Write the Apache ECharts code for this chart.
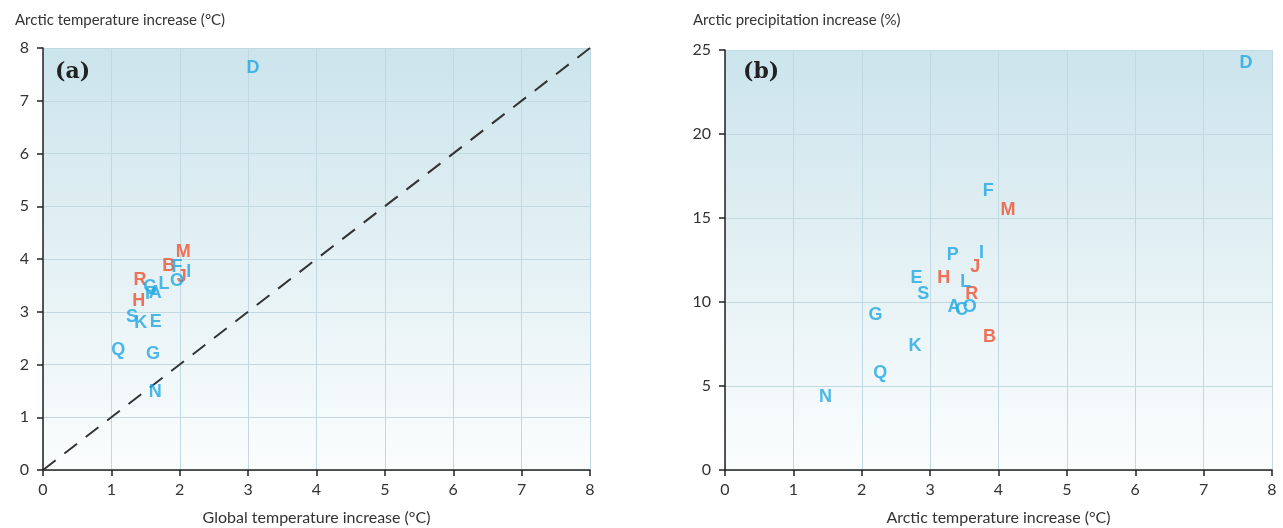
<!DOCTYPE html>
<html>
<head>
<meta charset="utf-8">
<script src="https://cdn.jsdelivr.net/npm/echarts@6/dist/echarts.min.js"></script>
<style>
  html, body { margin: 0; padding: 0; background: #fff; }
  #chart-box { width: 1283px; height: 528px; }
</style>
</head>
<body>
<div id="chart-box"></div>
<script>
// model letters and values
var models = ["A", "B", "C", "D", "E", "F", "G", "H", "I", "J", "K", "L", "M", "N", "O", "P", "Q", "R", "S"];
var globalTemp = [1.64, 1.84, 1.56, 3.07, 1.65, 1.96, 1.61, 1.40, 2.13, 2.03, 1.43, 1.77, 2.05, 1.64, 1.96, 1.58, 1.10, 1.42, 1.30];
var arcticTemp = [3.35, 3.87, 3.46, 7.62, 2.80, 3.85, 2.20, 3.20, 3.75, 3.66, 2.78, 3.52, 4.14, 1.47, 3.58, 3.33, 2.27, 3.61, 2.90];
var arcticPrecip = [9.7, 7.9, 9.5, 24.2, 11.4, 16.6, 9.2, 11.4, 12.9, 12.1, 7.4, 11.2, 15.5, 4.35, 9.7, 12.8, 5.8, 10.5, 10.5];
var redModels = ["B", "H", "J", "M", "R"];
var tempTicks = [0, 1, 2, 3, 4, 5, 6, 7, 8];
var precipTicks = [0, 5, 10, 15, 20, 25];

var blue = "#1fa8e2";
var red = "#f0502f";
var font = "Lato";

function points(xs, ys, wantRed) {
    var out = [];
    for (var i = 0; i < models.length; i++) {
        var isRed = redModels.indexOf(models[i]) >= 0;
        if (isRed === wantRed) out.push([xs[i], ys[i], models[i]]);
    }
    return out;
}

function letterSeries(idx, data, color) {
    return {
        type: "scatter",
        xAxisIndex: idx,
        yAxisIndex: idx,
        data: data,
        symbolSize: 1,
        itemStyle: { color: "rgba(0,0,0,0)" },
        label: {
            show: true,
            position: "inside",
            formatter: function (p) { return p.data[2]; },
            color: color,
            fontFamily: "Liberation Sans",
            fontWeight: "bold",
            fontSize: 18
        },
        silent: true,
        z: 3
    };
}

function bg() {
    return new echarts.graphic.LinearGradient(0, 0, 0, 1, [
        { offset: 0, color: "#cce4ec" },
        { offset: 1, color: "#fbfdfd" }
    ]);
}

function xAx(idx, name) {
    return {
        type: "value",
        gridIndex: idx,
        min: 0, max: 8, interval: 1,
        name: name,
        nameLocation: "middle",
        nameGap: 40,
        nameTextStyle: { fontFamily: font, fontSize: 16, color: "#333" },
        axisLine: { show: true, onZero: false, lineStyle: { color: "#222", width: 1.5 } },
        axisTick: { show: true, length: 6, lineStyle: { color: "#222", width: 1.5 } },
        axisLabel: {
            fontFamily: font, fontSize: 16, color: "#333", margin: 12,
            formatter: function (v) { return tempTicks.indexOf(v) >= 0 ? String(v) : ""; }
        },
        splitLine: { show: true, lineStyle: { color: "#c3d9e2", width: 1 } }
    };
}

function yAx(idx, max, step, ticks) {
    return {
        type: "value",
        gridIndex: idx,
        min: 0, max: max, interval: step,
        axisLine: { show: true, onZero: false, lineStyle: { color: "#222", width: 1.5 } },
        axisTick: { show: true, length: 6, lineStyle: { color: "#222", width: 1.5 } },
        axisLabel: {
            fontFamily: font, fontSize: 16, color: "#333", margin: 14,
            formatter: function (v) { return ticks.indexOf(v) >= 0 ? String(v) : ""; }
        },
        splitLine: { show: true, lineStyle: { color: "#c3d9e2", width: 1 } }
    };
}

var myChart = echarts.init(document.getElementById("chart-box"));
var option = {
    animation: false,
    title: [
        { text: "Arctic temperature increase (°C)", left: 10, top: 8,
          textStyle: { fontFamily: font, fontSize: 15, fontWeight: "normal", color: "#333" } },
        { text: "Arctic precipitation increase (%)", left: 688, top: 8,
          textStyle: { fontFamily: font, fontSize: 15, fontWeight: "normal", color: "#333" } },
        { text: "(a)", left: 50, top: 56,
          textStyle: { fontFamily: "DejaVu Serif", fontSize: 22, fontWeight: "bold", color: "#222" } },
        { text: "(b)", left: 738, top: 56,
          textStyle: { fontFamily: "DejaVu Serif", fontSize: 22, fontWeight: "bold", color: "#222" } }
    ],
    grid: [
        { left: 43, right: 693, top: 48, bottom: 58, outerBoundsMode: "none", containLabel: false,
          show: true, borderWidth: 0, backgroundColor: bg() },
        { left: 725, right: 11, top: 50, bottom: 58, outerBoundsMode: "none", containLabel: false,
          show: true, borderWidth: 0, backgroundColor: bg() }
    ],
    xAxis: [
        xAx(0, "Global temperature increase (°C)"),
        xAx(1, "Arctic temperature increase (°C)")
    ],
    yAxis: [
        yAx(0, 8, 1, tempTicks),
        yAx(1, 25, 5, precipTicks)
    ],
    series: [
        {
            type: "line",
            xAxisIndex: 0,
            yAxisIndex: 0,
            data: [[0, 0], [8, 8]],
            symbol: "none",
            lineStyle: { color: "#333", width: 2, type: [16, 11] },
            silent: true,
            z: 2
        },
        letterSeries(0, points(globalTemp, arcticTemp, true), red),
        letterSeries(0, points(globalTemp, arcticTemp, false), blue),
        letterSeries(1, points(arcticTemp, arcticPrecip, true), red),
        letterSeries(1, points(arcticTemp, arcticPrecip, false), blue)
    ]
};
myChart.setOption(option);
</script>
</body>
</html>
